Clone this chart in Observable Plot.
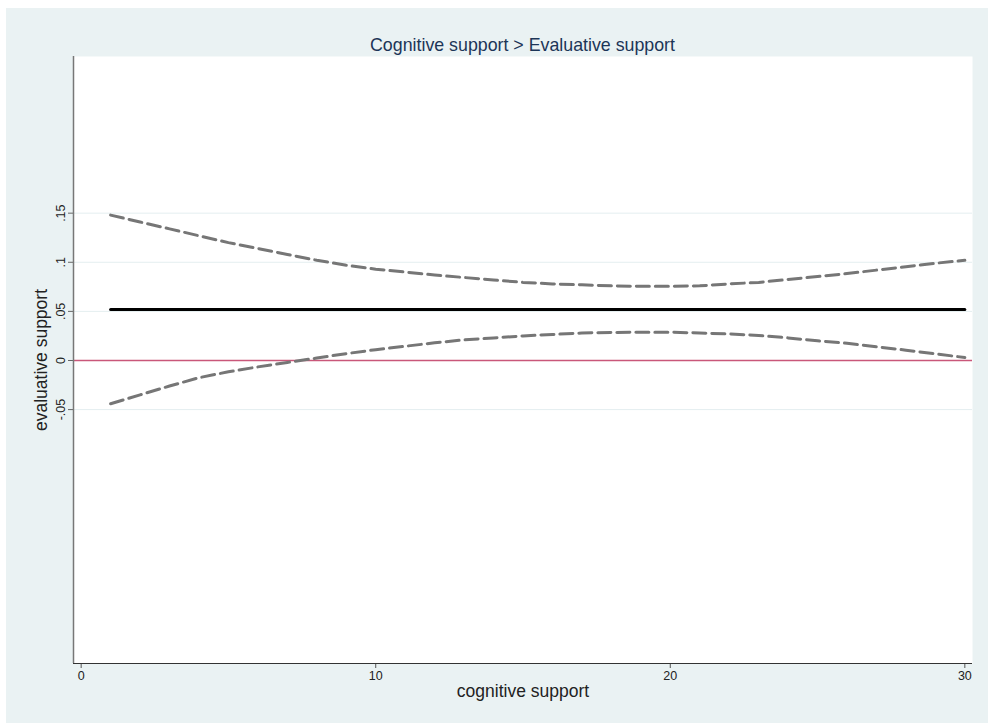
<!DOCTYPE html>
<html>
<head>
<meta charset="utf-8">
<script src="https://cdn.jsdelivr.net/npm/d3@7"></script>
<script src="https://cdn.jsdelivr.net/npm/@observablehq/plot@0.6"></script>
<style>
  html, body { margin: 0; padding: 0; background: #ffffff; }
  #wrap { position: absolute; left: 6px; top: 8px; width: 982px; height: 715px; background: #eaf2f3; font-family: "Liberation Sans", Arial, sans-serif; }
  #title { position: absolute; left: 67px; width: 899px; top: 27px; text-align: center; font-size: 17.8px; line-height: 20px; color: #1c3557; }
  #chart { position: absolute; left: 0; top: 0; }
  #chart g[aria-label$="tick label"] { font-size: 12.5px !important; }
</style>
</head>
<body>
<div id="wrap">
  <div id="chart"></div>
  <div id="title">Cognitive support &gt; Evaluative support</div>
</div>
<script>
const cognitive = [1,2,3,4,5,6,7,8,9,10,11,12,13,14,15,16,17,18,19,20,21,22,23,24,25,26,27,28,29,30];
const estimate  = [0.052,0.052,0.052,0.052,0.052,0.052,0.052,0.052,0.052,0.052,0.052,0.052,0.052,0.052,0.052,0.052,0.052,0.052,0.052,0.052,0.052,0.052,0.052,0.052,0.052,0.052,0.052,0.052,0.052,0.052];
const upper     = [0.148,0.141,0.134,0.127,0.120,0.114,0.108,0.102,0.097,0.093,0.090,0.087,0.0845,0.082,0.0795,0.078,0.077,0.076,0.0755,0.0755,0.076,0.078,0.0795,0.0825,0.0855,0.0885,0.092,0.0955,0.099,0.102];
const lower     = [-0.044,-0.035,-0.026,-0.0175,-0.0115,-0.0065,-0.002,0.0025,0.007,0.011,0.0145,0.018,0.021,0.023,0.025,0.0265,0.028,0.0285,0.0288,0.0288,0.028,0.027,0.0255,0.023,0.020,0.0175,0.014,0.0105,0.0068,0.003];
const yTicks = [-0.05, 0, 0.05, 0.1, 0.15];
const yTickLabels = ["-.05", "0", ".05", ".1", ".15"];
const xTicks = [0, 10, 20, 30];
const xLabel = "cognitive support";
const yLabel = "evaluative support";

const rows = cognitive.map((x, i) => ({x, est: estimate[i], hi: upper[i], lo: lower[i]}));

const chart = Plot.plot({
  width: 982,
  height: 715,
  marginLeft: 67,
  marginRight: 16,
  marginTop: 48,
  marginBottom: 60,
  style: { background: "transparent", fontFamily: "Liberation Sans, Arial, sans-serif", fontSize: "12.5px", color: "#222" },
  x: { domain: [-0.26, 30.26] },
  y: { domain: [-0.3085, 0.3095] },
  marks: [
    Plot.frame({ fill: "white", stroke: null }),
    Plot.gridY(yTicks, { stroke: "#e4eef0", strokeOpacity: 1, strokeWidth: 1 }),
    Plot.ruleY([0], { stroke: "#c9577a", strokeWidth: 1.5 }),
    Plot.line(rows, { x: "x", y: "hi", stroke: "#767676", strokeWidth: 3, strokeDasharray: "13,6" }),
    Plot.line(rows, { x: "x", y: "lo", stroke: "#767676", strokeWidth: 3, strokeDasharray: "13,6" }),
    Plot.line(rows, { x: "x", y: "est", stroke: "#000", strokeWidth: 3 }),
    Plot.axisY(yTicks, {
      tickFormat: (d) => yTickLabels[yTicks.indexOf(d)],
      tickRotate: -90, tickSize: 5, tickPadding: 4, stroke: "#666",
      label: null, fontSize: 12.5
    }),
    Plot.text([yLabel], { frameAnchor: "left", textAnchor: "middle", lineAnchor: "middle", rotate: -90, dx: -32, fontSize: 17.5, fill: "#222", text: d => d }),
    Plot.ruleX([-0.26], { stroke: "#777", strokeWidth: 1.5 }),
    Plot.axisX(xTicks, {
      tickSize: 5, tickPadding: 3, stroke: "#555",
      label: null, fontSize: 12.5
    }),
    Plot.text([xLabel], { frameAnchor: "bottom", textAnchor: "middle", lineAnchor: "middle", dy: 28, fontSize: 17.5, fill: "#222", text: d => d }),
    Plot.ruleY([-0.3085], { stroke: "#333", strokeWidth: 1 })
  ]
});
document.getElementById("chart").appendChild(chart);
</script>
</body>
</html>
